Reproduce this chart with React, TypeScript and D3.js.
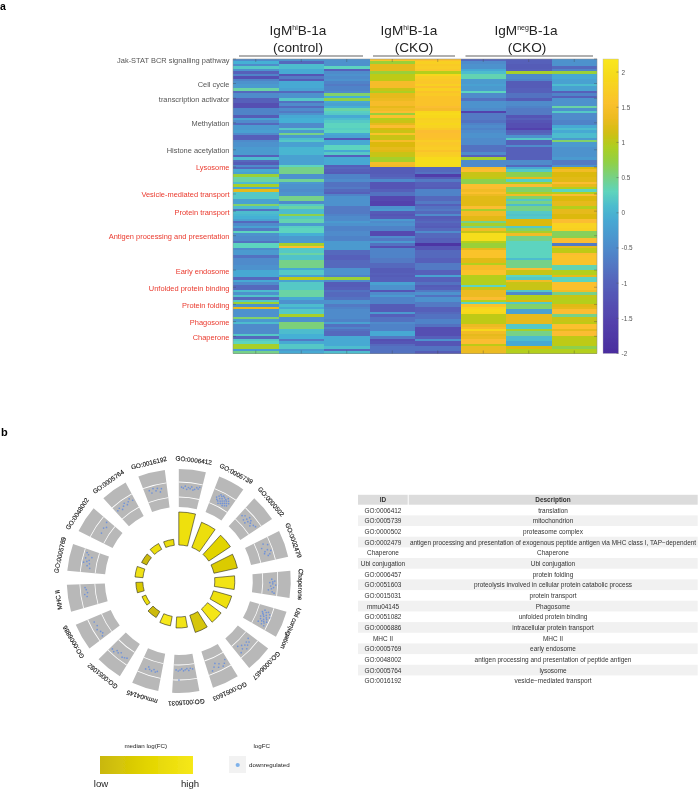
import React from "react";
import * as d3 from "d3";

// ---------- Panel a: heat map values, one list per sample column (top to bottom)
const ctrl1 = [-.5,0,-.5,.2,-.4,-1,-.6,-1.3,-.6,-.4,-.3,-.3,.4,-.9,-.5,-.5,-1,-1,-1.3,-1.3,-.6,-.6,-.6,-1.1,-.2,-.5,-.9,-.3,-.3,-.2,
 -.5,-1,-1,-.5,-.4,-.4,-.3,-.3,-.3,-1,.1,-.9,-1.1,-.5,-.9,-.1,-.2,.8,.4,.4,.1,.9,-.1,1.3,.2,.2,.2,-.2,-.2,.6,
 .1,-.8,.1,.05,0,-.2,-.9,-.5,-.2,-.7,.3,-.4,-.5,-.5,-.8,.3,.3,-.5,-.3,-.3,-.8,-.5,-.5,-.5,-.4,-.4,-.1,-.1,-.1,-.9,-.1,
 -.5,-.9,-.9,.1,-.4,.15,-.9,.2,.8,-.4,1.3,-.4,-.4,-.4,.6,-.3,.1,-.5,-.5,-.5,-.5,.2,-.9,.2,.3,.9,.9,-.2,.5];
const ctrl2 = [-.4,-.9,.1,.1,-.1,-.1,-1.2,-.7,-1.1,-.1,-.1,-.1,-.2,-.9,-.4,-.4,.2,-.8,-.5,-.9,-.5,-.7,-.4,-.1,0,0,-.5,-.5,.2,-.3,
 .5,-.3,.1,.2,-.2,-.2,.05,.05,.05,-.2,-.2,-.2,-.2,.3,.5,.5,.5,-.4,-.4,.45,-.3,-.4,-.4,-.5,-.4,-.4,.5,.5,-.5,.2,
 .4,.1,.1,.7,.2,.35,.35,-.3,.25,.3,.3,0,-.3,-.3,-.3,.9,1.5,.2,.2,.4,.15,.15,.5,.5,.5,-.1,.2,.2,-.2,1.05,-.2,
 .2,.2,.2,.4,.4,.4,-.1,-.4,-.4,.1,-.1,.2,.2,.9,-.4,-.4,.55,.55,.55,.1,.1,0,0,-.7,-.1,.2,.2,-.3,-.1];
const ctrl3 = [-.4,-.4,-.4,.3,-1,-.5,-.4,-.5,-.4,-.6,-.7,-.6,-.6,-.5,.6,0,.7,-.1,-.2,0,.4,.25,.2,-.1,.1,.2,.3,.3,.25,.3,
 -.1,-.2,-1.2,-.1,-.1,.3,.3,-.1,.2,-1,-.1,-.1,-.1,-1,-.9,-1,-1.1,-.6,-.6,-.5,-.8,-.8,-.7,-.9,-1,-.6,-.4,-.4,-.4,-.4,
 -.7,-.7,-.7,-.6,-.5,-.5,-.3,-.4,-.6,-.6,-.5,-.5,-.6,-.6,-.3,-.3,-.3,-.3,-.9,-.9,-1,-1,-.9,-.9,-.9,-.4,-.4,-.4,-.6,.8,-.5,
 -1.1,-1.1,-1,-.8,-.9,-.9,-.8,-.4,-.4,-.7,-.6,-.5,-.5,-.5,-.5,-.6,-.2,-.8,-.6,-.8,-.9,-.9,-.1,-.1,-.1,-.1,.1,-.9,.1];
const hiCko1 = [1.6,.8,1.3,1.3,1.3,.8,1.05,1.05,1.05,1.45,1.45,1.45,1.1,.95,1.3,1.3,1.35,1.45,1.45,1.3,1.4,1.5,.8,1.55,1,1.1,1.3,1.5,1.2,1.1,
 1.6,1.1,1.1,1.45,1.2,1.2,1.3,1.25,1.1,1.1,.9,.9,1.45,1.4,-1.1,-1.1,-1.1,-1,-.9,-.5,-1.2,-1.2,-1.2,-1,-.8,-.8,-1.4,-1.4,-1.5,-1.5,
 -.4,-.3,-1.1,-1.2,-1.1,-.3,-.5,-.4,-.6,-.6,-1.4,-1.4,-.5,-.7,-.3,-.8,-1.3,-.6,-.6,-.6,-.6,-.7,-.7,-.9,-.9,-1.1,-1.1,-1,-1.1,-1,-1,
 -.2,-.4,-.4,-1.2,-.5,-.3,-.6,-.6,-.6,-1.1,-1.1,-1.1,-.3,-1,-.8,-.8,-.5,-.6,-.6,-.6,-.1,-.1,-.7,-1.3,-1.2,-.9,-.8,-.8,-.8];
const hiCko2 = [1.55,1.8,1.7,1.75,1.65,1,1.9,1.75,1.7,1.65,1.8,1.55,1.8,1.6,1.7,1.6,1.6,1.6,1.6,1.5,1.45,1.9,1.95,1.9,1.8,1.85,1.9,1.85,1.7,1.5,
 1.55,1.55,1.6,1.75,1.65,1.7,1.75,1.6,1.75,1.8,1.95,2,2,1.95,-.9,-.9,-.8,-1.6,-1.1,-.7,-1,-1,-1.1,-.6,-.6,-.6,-.9,-.9,-.7,-1,
 -.8,-.7,-.9,-.5,-1.1,-1,-.9,-1,-1.1,-.9,-.5,-.9,-.9,-1,-1,-1.8,-1.2,-1.2,-.9,-.9,-.9,-1,-1,-.7,-.7,-.7,-1,-1,-.2,-1,-1,
 -.8,-1.1,-1,-.7,-.4,-.8,-.4,-.4,-.7,-.7,-1,-1,-.9,-.8,-.8,-.6,-.6,-.8,-1.3,-1.3,-1.3,-1.3,-1,-.4,-1.2,-1.2,-.8,-.8,-1.1];
const negCko1 = [-.9,-.5,-.4,-.4,-.1,.1,.35,.35,-.3,-.3,-.2,-.3,-.3,.3,-.5,-.5,-.8,-.4,-.4,-.4,-.5,-1.5,-.7,-.7,-.7,-.8,-.6,-.5,-.6,-.5,
 -.4,-.4,-.5,-.5,-.5,-.8,-.8,-.8,-.5,-1,.9,-.5,-.5,-.5,1.45,1.5,1.1,1.1,1.05,.7,.7,1.55,1.5,1.4,1.55,1.35,1.25,1.25,1.25,1.25,
 1.5,.9,1.4,1.4,1.25,1.25,.5,.9,.5,1.4,1.1,2,2,2,1,.8,.8,1.3,1.6,1.6,1.6,1.25,1.25,1,1.45,1.45,1.6,1.6,1,1,1,
 1,.3,1.1,1.35,1.35,1.35,1.5,1,.3,1.6,1.85,1.95,1.9,1.05,1.05,1.05,1.05,1.35,1.45,1.9,1.4,1.3,1.35,1.5,1.5,1.05,1.35,1.35,1.35];
const negCko2 = [-1,-1,-1.1,-1.1,-1,.9,-.5,-.5,-.6,-1.1,-1.1,-1.1,-1,-1,-.8,-.8,-1.1,-.5,-.5,-.6,-.7,-.7,-.7,-1.2,-1,-1.2,-1.3,-1.3,-1.5,-1,
 -.9,-.4,.2,-1,-1,-.5,-1,-1,-1,-1,-1,-.5,-.5,-.9,-.1,.2,.7,.7,1.3,.25,.9,1.5,.6,.6,.95,1.4,.6,.2,.5,.1,
 .5,.5,.2,.15,.2,1.2,1.2,1.2,.2,.6,.9,1.4,.5,.5,.3,.3,.3,.3,.3,.3,.3,.1,.5,.5,.5,1.5,1.1,1.1,.3,.2,1.4,
 1.1,1.1,1.1,.2,-.5,1,1,1.2,.2,.6,.6,-.2,-.2,1.3,1.3,1.3,1.3,.2,.2,.9,.5,.5,.1,.1,-.1,-.1,1.2,1,1];
const negCko3 = [-.4,-.4,-.4,-.9,-.6,.8,-.1,-.1,-.2,-.2,.1,-.2,-.2,-1,-.6,-1,-.4,-.4,-.4,.4,-.4,.2,-.5,-.5,-.5,-.6,-.6,-.1,.1,-.1,
 .1,.1,-.3,.6,-.3,-.3,-.4,-.4,-.4,-.4,-.3,-.7,-.7,-.4,1.2,1.4,1.2,1.2,1.25,1.25,1.5,1.3,1,.3,1,1.5,1.2,1.2,1.3,1.3,
 1,1.3,1.3,1.2,1.2,1.5,1.5,1.85,1.85,1.8,.65,.65,.7,1.5,1.5,-.7,1.3,1.05,1.05,1.5,1.6,1.6,1.6,1.6,.35,.35,1,1,1.3,.3,.3,
 1.55,1.55,1.55,1.4,.5,1.1,1.05,1,1,1.25,1.3,1.5,1.5,.5,1.1,1.1,1.05,1.55,1.55,1.3,1.5,1.5,1.05,1.05,1.05,1.05,.7,1,1];
const heatColumns = [ctrl1, ctrl2, ctrl3, hiCko1, hiCko2, negCko1, negCko2, negCko3];

const pathwayLabels = ["Jak-STAT BCR signalling pathway","Cell cycle","transcription activator","Methylation","Histone acetylation",
 "Lysosome","Vesicle-mediated transport","Protein transport","Antigen processing and presentation","Early endosome",
 "Unfolded protein binding","Protein folding","Phagosome","Chaperone"];
const pathwayRows = [0.5,10,16,26.5,37,44,55,62.5,72.5,86,93,100,107,113.5];
const pathwayIsRed = [0,0,0,0,0,1,1,1,1,1,1,1,1,1];
const colorbarTicks = [-2,-1.5,-1,-.5,0,.5,1,1.5,2];
const heatStops = [-2,-1.5,-1,-.5,0,.3,.5,.75,1,1.2,1.5,2,2.2];
const heatColors = ["#4a2c9e","#5343ad","#5661ba","#4f8bcb","#45b0d5","#5dd4bf","#76d188","#93d03f","#b4cf1a","#dcb90f","#fbbd30","#f6dd1a","#fae71e"];

// ---------- Panel b: circular GO plot
const goIds = ["GO:0006412","GO:0005739","GO:0000502","GO:0002479","Chaperone","Ubl conjugation","GO:0006457","GO:0051603","GO:0015031","mmu04145","GO:0051082","GO:0006886","MHC II","GO:0005769","GO:0048002","GO:0005764","GO:0016192"];
const goDesc = ["translation","mitochondrion","proteasome complex","antigen processing and presentation of exogenous peptide antigen via MHC class I, TAP\u2212dependent","Chaperone","Ubl conjugation","protein folding","proteolysis involved in cellular protein catabolic process","protein transport","Phagosome","unfolded protein binding","intracellular protein transport","MHC II","early endosome","antigen processing and presentation of peptide antigen","lysosome","vesicle\u2212mediated transport"];
const barHeight = [1.65,1.35,1.3,1.2,1,.95,.85,.9,.55,.48,.35,.2,.35,.4,.28,.33,.3];
const barTone = [.8,.75,.5,.35,.9,.8,.95,.25,.9,1,.05,.75,.3,.85,.05,.75,.7];
// per term: [position across the sector, logFC level]
const goPoints = [
 [[.12,94],[.2,93],[.28,95],[.35,92],[.42,94],[.5,93],[.56,95],[.63,92],[.7,93],[.78,95],[.85,94],[.9,96]],
 [[.22,92],[.27,90],[.3,94],[.34,89],[.37,92],[.41,95],[.44,90],[.47,93],[.5,88],[.52,91],[.55,95],[.58,89],[.6,92],[.63,94],[.66,90],[.68,93],[.72,88],[.74,91],[.77,94],[.8,89],[.83,92],[.35,96],[.48,96],[.62,87],[.7,96],[.4,87]],
 [[.12,91],[.22,93],[.3,89],[.38,92],[.42,95],[.5,91],[.55,94],[.62,92],[.7,90],[.78,93],[.88,94],[.45,88]],
 [[.2,92],[.3,96],[.36,89],[.5,94],[.58,97],[.63,90],[.7,95],[.75,93],[.55,91]],
 [[.3,93],[.38,96],[.45,91],[.5,94],[.55,97],[.6,92],[.66,95],[.72,93],[.78,90],[.85,94],[.9,96],[.42,94]],
 [[.2,91],[.24,95],[.28,93],[.32,97],[.36,90],[.4,94],[.44,98],[.48,92],[.52,89],[.56,96],[.6,93],[.63,90],[.66,97],[.7,92],[.74,95],[.78,89],[.82,93],[.85,96],[.3,89],[.5,95],[.68,94],[.42,91]],
 [[.18,90],[.28,93],[.36,91],[.42,94],[.5,92],[.56,96],[.62,90],[.7,93],[.78,88],[.85,95]],
 [[.1,91],[.2,94],[.3,96],[.42,92],[.5,95],[.58,90],[.68,93],[.8,96]],
 [[.12,89],[.22,88],[.3,90],[.38,88],[.46,89],[.54,90],[.62,88],[.7,89],[.78,90],[.88,89],[.75,99]],
 [[.2,93],[.28,94],[.36,92],[.45,94],[.55,93],[.62,91],[.72,94]],
 [[.15,93],[.25,94],[.35,95],[.5,92],[.6,94],[.7,93],[.78,96],[.9,95]],
 [[.1,94],[.2,92],[.3,93],[.45,95],[.6,93],[.8,94]],
 [[.45,93],[.55,95],[.62,92],[.75,93],[.85,94]],
 [[.2,90],[.3,93],[.4,91],[.48,94],[.55,92],[.62,96],[.7,90],[.78,94],[.85,96],[.42,97]],
 [[.38,91],[.62,92],[.9,93],[.72,90]],
 [[.1,93],[.22,94],[.3,91],[.42,93],[.52,95],[.6,92],[.7,94],[.8,96],[.9,93]],
 [[.22,95],[.3,92],[.4,96],[.5,93],[.58,95],[.68,91],[.75,94]],
];
const ringLevels = [84, 99];

const HEAT = { x0: 233, x1: 597, y0: 59, y1: 353.5 };
const CIRCLE = { cx: 178.8, cy: 581, sector: (14 * Math.PI) / 180, step: (2 * Math.PI) / 17 };
const FONT = "'Liberation Sans', Arial, sans-serif";

const rowCount = ctrl1.length;
const xCol = d3.scaleBand<number>().domain(d3.range(heatColumns.length)).range([HEAT.x0, HEAT.x1]);
const yRow = d3.scaleBand<number>().domain(d3.range(rowCount)).range([HEAT.y0, HEAT.y1]);
const heatColor = d3.scaleLinear<string>().domain(heatStops).range(heatColors).clamp(true);
const yBar = d3.scaleLinear().domain([-2, 2.2]).range([HEAT.y1, HEAT.y0 - 1]);
const rBar = d3.scaleLinear().domain([0, 1.65]).range([36, 69]);
const toneColor = d3.scaleLinear<string>().domain([0, .5, 1]).range(["#c9b70e", "#e2d400", "#f6e81a"]);
const arc = d3.arc();

function Title({ x, y, sup, line2, x2 }: { x: number; y: number; sup: string; line2: string; x2: number }) {
  return (
    <g fontFamily={FONT} fontSize={13.6} fill="#222">
      <text x={x} y={y} textAnchor="middle">
        IgM<tspan fontSize={7} dy={-5}>{sup}</tspan><tspan dy={5}>B-1a</tspan>
      </text>
      <text x={x2} y={y + 16.5} textAnchor="middle">{line2}</text>
    </g>
  );
}

export default function App() {
  const gradStops = d3.range(0, 1.001, 0.05).map((t) => ({ t, c: heatColor(-2 + 4.2 * t) }));
  const tableY = d3.scaleBand<number>().domain(d3.range(goIds.length)).range([504.7, 686.1]);
  return (
    <svg width={699} height={789} style={{ position: "absolute", left: 0, top: 0, background: "#fff" }}>
      <defs>
        <linearGradient id="cb" x1="0" y1="1" x2="0" y2="0">
          {gradStops.map((s) => <stop key={s.t} offset={s.t} stopColor={s.c} />)}
        </linearGradient>
        <linearGradient id="legendGrad" x1="0" y1="0" x2="1" y2="0">
          <stop offset="0" stopColor={toneColor(0)} />
          <stop offset="0.5" stopColor={toneColor(.5)} />
          <stop offset="1" stopColor={toneColor(1)} />
        </linearGradient>
        <filter id="soft" x="0" y="0" width="699" height="789" filterUnits="userSpaceOnUse">
          <feGaussianBlur stdDeviation="0.35" />
        </filter>
      </defs>

      <g filter="url(#soft)">
      <text x={0} y={10} fontFamily={FONT} fontWeight="bold" fontSize={10.5}>a</text>
      <text x={1} y={436} fontFamily={FONT} fontWeight="bold" fontSize={11}>b</text>

      <Title x={298} y={35} sup="hi" line2="(control)" x2={298} />
      <Title x={409} y={35} sup="hi" line2="(CKO)" x2={414} />
      <Title x={526} y={35} sup="neg" line2="(CKO)" x2={527} />
      {[[239, 363], [373, 455], [465.5, 593]].map(([a, b]) => (
        <rect key={a} x={a} y={55} width={b - a} height={2} fill="#b0b0b0" />
      ))}

      <g shapeRendering="crispEdges">
        {heatColumns.map((col, c) => col.map((v, r) => (
          <rect key={c + "-" + r} x={xCol(c)} y={yRow(r)} width={xCol.bandwidth()} height={yRow.bandwidth() + .3} fill={heatColor(v)} />
        )))}
      </g>
      <rect x={HEAT.x0} y={HEAT.y0} width={HEAT.x1 - HEAT.x0} height={HEAT.y1 - HEAT.y0} fill="none" stroke="#8a8a8a" strokeWidth={.5} />
      <g stroke="#444" strokeWidth={.5} opacity={.7}>
        {heatColumns.map((_, c) => {
          const x = xCol(c)! + xCol.bandwidth() / 2;
          return <g key={c}><line x1={x} x2={x} y1={HEAT.y0} y2={HEAT.y0 + 3} /><line x1={x} x2={x} y1={HEAT.y1 - 3} y2={HEAT.y1} /></g>;
        })}
        {pathwayRows.map((r) => {
          const y = yRow(Math.floor(r))!;
          return <g key={r}><line x1={HEAT.x0} x2={HEAT.x0 + 3} y1={y} y2={y} /><line x1={HEAT.x1 - 3} x2={HEAT.x1} y1={y} y2={y} /></g>;
        })}
      </g>
      <g fontFamily={FONT} fontSize={7.45} textAnchor="end" dominantBaseline="central">
        {pathwayLabels.map((l, i) => (
          <text key={l} x={229.5} y={yRow(Math.floor(pathwayRows[i]))! + 1} fill={pathwayIsRed[i] ? "#ea3a2e" : "#555"}>{l}</text>
        ))}
      </g>

      <rect x={603} y={HEAT.y0} width={15.5} height={HEAT.y1 - HEAT.y0} fill="url(#cb)" stroke="#b5b5b5" strokeWidth={.4} />
      <g fontFamily={FONT} fontSize={6.4} fill="#555" dominantBaseline="central">
        {colorbarTicks.map((t) => (
          <g key={t}>
            <line x1={616.5} x2={618.5} y1={yBar(t)} y2={yBar(t)} stroke="#555" strokeWidth={.5} />
            <text x={621.5} y={yBar(t)}>{t}</text>
          </g>
        ))}
      </g>

      <g transform={`translate(${CIRCLE.cx},${CIRCLE.cy})`}>
        {goIds.map((id, i) => {
          const a0 = i * CIRCLE.step;
          const a1 = a0 + CIRCLE.sector;
          const mid = (a0 + a1) / 2;
          return (
            <g key={id}>
              <path d={arc({ innerRadius: 74, outerRadius: 112, startAngle: a0, endAngle: a1 })!} fill="#b8b8b8" />
              {ringLevels.map((r) => (
                <path key={r} d={arc({ innerRadius: r - .4, outerRadius: r + .4, startAngle: a0, endAngle: a1 })!} fill="#fff" />
              ))}
              {goPoints[i].map(([f, r], k) => {
                const t = a0 + f * CIRCLE.sector;
                return <circle key={k} cx={r * Math.sin(t)} cy={-r * Math.cos(t)} r={.85} fill="#7193d8" />;
              })}
              <path d={arc({ innerRadius: 36, outerRadius: rBar(barHeight[i]), startAngle: a0, endAngle: a1 })!} fill={toneColor(barTone[i])} stroke="#2a2a1a" strokeWidth={.6} />
              <text transform={`rotate(${(mid * 180) / Math.PI}) translate(0,-119.5)`} textAnchor="middle" fontFamily={FONT} fontSize={6.4} fill="#111" stroke="#111" strokeWidth={.12}>{id}</text>
            </g>
          );
        })}
      </g>

      <g fontFamily={FONT} fontSize={6.45} fill="#333" textAnchor="middle" dominantBaseline="central">
        <rect x={358} y={494.8} width={49.7} height={9.9} fill="#dcdcdc" />
        <rect x={408.7} y={494.8} width={289} height={9.9} fill="#dcdcdc" />
        <text x={383} y={499.9} fontWeight="bold">ID</text>
        <text x={553} y={499.9} fontWeight="bold">Description</text>
        {goIds.map((id, i) => (
          <g key={id}>
            {i % 2 === 1 && <rect x={358} y={tableY(i)} width={339.7} height={tableY.bandwidth()} fill="#f1f1f1" />}
            <text x={383} y={tableY(i)! + tableY.bandwidth() / 2}>{id}</text>
            <text x={553} y={tableY(i)! + tableY.bandwidth() / 2}>{goDesc[i]}</text>
          </g>
        ))}
      </g>

      <g fontFamily={FONT} fill="#222">
        <text x={145.7} y={748} fontSize={6.2} textAnchor="middle">median log(FC)</text>
        <rect x={100} y={756} width={93} height={18} fill="url(#legendGrad)" />
        <text x={101} y={787} fontSize={9.6} textAnchor="middle">low</text>
        <text x={190} y={787} fontSize={9.6} textAnchor="middle">high</text>
        <text x={261.7} y={748} fontSize={6.2} textAnchor="middle">logFC</text>
        <rect x={229} y={756} width={17} height={17} fill="#f2f2f2" />
        <circle cx={237.7} cy={765} r={2.1} fill="#7fb2ea" />
        <text x={249} y={767} fontSize={6.2}>downregulated</text>
      </g>
      </g>
    </svg>
  );
}
